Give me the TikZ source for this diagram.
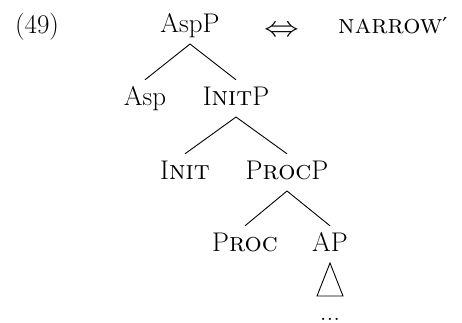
\documentclass[tikz,border=0pt]{standalone}
\usepackage{fontspec}
\usepackage{graphicx}
\newfontfamily\symfont{DejaVu Sans}
\begin{document}
\begin{tikzpicture}[x=1pt,y=-1pt,
  lbl/.style={font=\fontsize{27}{32}\selectfont, inner sep=0pt, anchor=base},
  tnode/.style={lbl, text height=18.4pt, text depth=5.2pt, outer sep=6.8pt},
  edge/.style={line width=0.9pt}]
\useasboundingbox (0,0) rectangle (462,322);
\node[lbl] (num) at (37,33) {(49)};
\node[lbl, anchor=center] (arr) at (282,31) {\scalebox{1.4}[1.15]{$\Leftrightarrow$}};
\node[lbl, anchor=base west] (narrow) at (338,33) {\addfontfeatures{LetterSpace=4}\textsc{narrow}{\symfont\fontsize{22}{26}\selectfont ′}};
\node[tnode] (aspp) at (190,32) {AspP};
\node[tnode] (asp) at (145,105) {Asp};
\node[tnode] (initp) at (236,105) {I\textsc{nit}P};
\node[tnode] (init) at (185,179) {I\textsc{nit}};
\node[tnode] (procp) at (287,179) {P\textsc{roc}P};
\node[tnode] (proc) at (245,251) {P\textsc{roc}};
\node[tnode] (ap) at (330,251) {AP};
\node[lbl] (dots) at (330,320) {...};
\draw[edge] (aspp.south) -- (asp.north);
\draw[edge] (aspp.south) -- (initp.north);
\draw[edge] (initp.south) -- (init.north);
\draw[edge] (initp.south) -- (procp.north);
\draw[edge] (procp.south) -- (proc.north);
\draw[edge] (procp.south) -- (ap.north);
\draw[edge] (ap.south) -- ++(-13,33) -- ++(26,0) -- cycle;
\end{tikzpicture}
\end{document}
